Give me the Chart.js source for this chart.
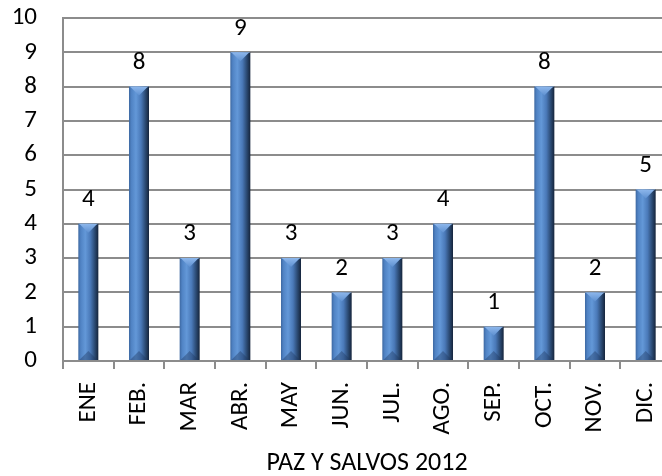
<!DOCTYPE html>
<html>
<head>
<meta charset="utf-8">
<script src="https://cdn.jsdelivr.net/npm/chart.js@4/dist/chart.umd.min.js"></script>
<style>
html,body{margin:0;padding:0;background:#fff;overflow:hidden;}
#wrap{width:680px;height:476px;}
</style>
</head>
<body>
<div id="wrap"><canvas id="c" width="680" height="476"></canvas></div>
<script>
const categories = ['ENE','FEB.','MAR','ABR.','MAY','JUN.','JUL.','AGO.','SEP.','OCT.','NOV.','DIC.'];
const values = [4,8,3,9,3,2,3,4,1,8,2,5];
const yTicks = [0,1,2,3,4,5,6,7,8,9,10];
const chartTitle = 'PAZ Y SALVOS 2012';

const FONT = 'Carlito, Calibri, Lato, sans-serif';
const FS = 25;
const BAR_PCT = 0.79, CAT_PCT = 0.5;

function barGradient(ctx) {
  const chart = ctx.chart;
  const xs = chart.scales && chart.scales.x;
  if (!xs) return '#4f81bd';
  const cx = xs.getPixelForValue(ctx.dataIndex);
  const w = (xs.width / categories.length) * BAR_PCT * CAT_PCT;
  if (!isFinite(cx) || !isFinite(w) || w <= 0) return '#4f81bd';
  const g = chart.ctx.createLinearGradient(cx - w/2, 0, cx + w/2, 0);
  g.addColorStop(0, '#3d68a1');
  g.addColorStop(0.12, '#5083c4');
  g.addColorStop(0.35, '#6398d8');
  g.addColorStop(0.6, '#4a79b8');
  g.addColorStop(0.82, '#2b4a73');
  g.addColorStop(1, '#15243b');
  return g;
}

const bevelPlugin = {
  id: 'bevel',
  afterDatasetsDraw(chart) {
    const c = chart.ctx;
    const meta = chart.getDatasetMeta(0);
    meta.data.forEach((bar, i) => {
      const w = bar.width, x = bar.x, y = bar.y, b = bar.base;
      if (![w, x, y, b].every(isFinite)) return;
      const h = Math.min(9, (b - y) / 2);
      const g = c.createLinearGradient(0, y, 0, y + h);
      g.addColorStop(0, '#8db7ec');
      g.addColorStop(1, '#5e90d0');
      c.save();
      c.beginPath();
      c.moveTo(x - w/2, y);
      c.lineTo(x + w/2, y);
      c.lineTo(x + w/2 - 2, y + 1);
      c.lineTo(x, y + h);
      c.lineTo(x - w/2 + 2, y + 1);
      c.closePath();
      c.fillStyle = g;
      c.fill();
      c.beginPath();
      c.moveTo(x - w/2 + 1, b);
      c.lineTo(x + w/2 - 1, b);
      c.lineTo(x, b - h);
      c.closePath();
      c.fillStyle = 'rgba(30,55,95,0.4)';
      c.fill();
      c.fillStyle = '#000';
      c.font = FS + 'px ' + FONT;
      c.textAlign = 'center';
      c.textBaseline = 'middle';
      c.fillText(String(values[i]), x, y - 24);
      c.restore();
    });
  }
};

new Chart(document.getElementById('c'), {
  type: 'bar',
  data: {
    labels: categories,
    datasets: [{
      data: values,
      backgroundColor: barGradient,
      borderWidth: 0,
      barPercentage: BAR_PCT,
      categoryPercentage: CAT_PCT
    }]
  },
  options: {
    responsive: false,
    animation: false,
    devicePixelRatio: 1,
    layout: { padding: { top: 18, right: 9, left: 0, bottom: 0 } },
    plugins: { legend: { display: false }, tooltip: { enabled: false }, title: { display: false } },
    scales: {
      y: {
        min: 0, max: 10,
        afterBuildTicks(scale) { scale.ticks = yTicks.map(v => ({ value: v })); },
        afterFit(scale) { scale.width = 63; scale.paddingTop = 0; scale.paddingBottom = 0; },
        border: { display: true, color: '#8c8c8c', width: 2 },
        grid: { color: '#8c8c8c', lineWidth: 2, drawTicks: false },
        ticks: { color: '#000', font: { family: FONT, size: FS }, padding: 26 }
      },
      x: {
        afterFit(scale) { scale.height = 115; scale.paddingLeft = 0; scale.paddingRight = 0; },
        border: { display: true, color: '#8c8c8c', width: 2 },
        grid: { display: true, drawOnChartArea: false, drawTicks: true, tickLength: 8, color: '#8c8c8c', lineWidth: 2, offset: true },
        ticks: { color: '#000', font: { family: FONT, size: FS }, minRotation: 90, maxRotation: 90, padding: 13, autoSkip: false },
        title: { display: true, text: chartTitle, color: '#000', font: { family: FONT, size: 26, lineHeight: 1 }, padding: { top: 0, bottom: 0 } }
      }
    }
  },
  plugins: [bevelPlugin]
});
</script>
</body>
</html>
